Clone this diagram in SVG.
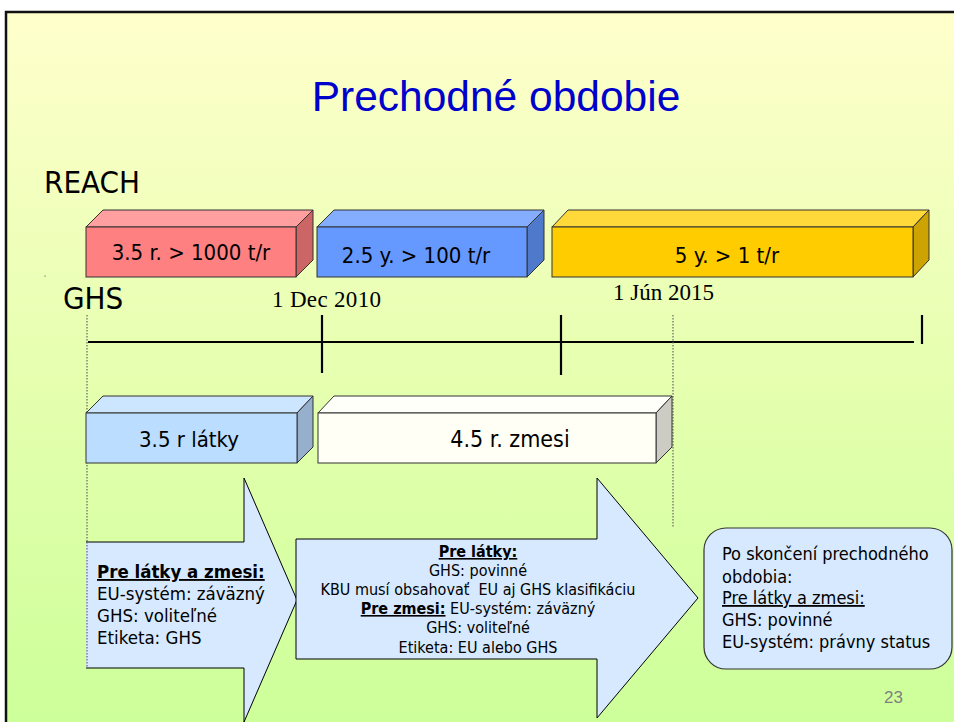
<svg xmlns="http://www.w3.org/2000/svg" width="954" height="722" viewBox="0 0 954 722">
<defs>
<linearGradient id="bg" x1="0" y1="0" x2="0" y2="1">
<stop offset="0" stop-color="#FFFFCC"/>
<stop offset="0.5" stop-color="#E6FFB0"/>
<stop offset="1" stop-color="#CCFF99"/>
</linearGradient>
<style>
.c{font-family:"DejaVu Sans Condensed","DejaVu Sans",sans-serif;font-stretch:condensed;fill:#000}
.s{font-family:"Liberation Serif","Times New Roman",serif;fill:#000}
.edge{stroke:#333;stroke-width:1}
.dot{stroke:#666;stroke-width:1.2;stroke-dasharray:1.5 1.5;fill:none}
.tl{stroke:#000;stroke-width:2.2;fill:none}
.arw{fill:#D6E9FF;stroke:#000;stroke-width:1}
</style>
</defs>
<rect x="0" y="0" width="954" height="722" fill="#FFFFFF"/>
<rect x="6" y="12" width="960" height="720" fill="url(#bg)"/>
<path d="M6,722 V12 H954" fill="none" stroke="#111" stroke-width="2.5"/>
<rect x="44.5" y="275.5" width="1.2" height="1.2" fill="#777"/>

<g id="title"><text x="496" y="111" text-anchor="middle" font-family="Liberation Sans, Arial, sans-serif" font-size="42.5" fill="#0000CC">Prechodné obdobie</text></g>
<g id="label-reach"><text class="c" x="44" y="193" font-size="31">REACH</text></g>
<g id="label-ghs"><text class="c" x="63" y="309" font-size="31">GHS</text></g>

<g id="reach-1">
<polygon class="edge" points="86,227 103,210 313,210 296,227" fill="#FF9F9F"/>
<polygon class="edge" points="296,227 313,210 313,260 296,277" fill="#CC6666"/>
<rect class="edge" x="86" y="227" width="210" height="50" fill="#FF8080"/>
<text class="c" x="191" y="260" font-size="22" text-anchor="middle">3.5 r. &gt; 1000 t/r</text>
</g>
<g id="reach-2">
<polygon class="edge" points="317,227 334,210 544,210 527,227" fill="#85ADFF"/>
<polygon class="edge" points="527,227 544,210 544,260 527,277" fill="#4F7ACC"/>
<rect class="edge" x="317" y="227" width="210" height="50" fill="#6699FF"/>
<text class="c" x="416" y="263" font-size="22" text-anchor="middle">2.5 y. &gt; 100 t/r</text>
</g>
<g id="reach-3">
<polygon class="edge" points="552,227 568,210 929,210 913,227" fill="#FFD83A"/>
<polygon class="edge" points="913,227 929,210 929,260 913,277" fill="#CCA300"/>
<rect class="edge" x="552" y="227" width="361" height="50" fill="#FFCC00"/>
<text class="c" x="727" y="263" font-size="22" text-anchor="middle">5 y. &gt; 1 t/r</text>
</g>

<g id="date-2010"><text class="s" x="272" y="307" font-size="23" textLength="109">1 Dec 2010</text></g>
<g id="date-2015"><text class="s" x="613" y="300" font-size="23" textLength="101">1 Jún 2015</text></g>

<g id="connectors">
<line class="tl" x1="88" y1="342" x2="914" y2="342"/>
<line class="tl" x1="322" y1="315" x2="322" y2="373" stroke-width="2.5"/>
<line class="tl" x1="561" y1="315" x2="561" y2="375" stroke-width="2.5"/>
<line class="tl" x1="922" y1="315" x2="922" y2="344" stroke-width="2.5"/>
<line class="dot" x1="87" y1="315" x2="87" y2="668"/>
<line class="dot" x1="673" y1="315" x2="673" y2="528"/>
</g>

<g id="ghs-latky">
<polygon class="edge" points="86,413 103,396 313,396 297,413" fill="#CCE6FF"/>
<polygon class="edge" points="297,413 313,396 313,447 297,463" fill="#96AFCC"/>
<rect class="edge" x="86" y="413" width="211" height="50" fill="#BBDDFF"/>
<text class="c" x="189" y="447" font-size="22" text-anchor="middle">3.5 r látky</text>
</g>
<g id="ghs-zmesi">
<polygon class="edge" points="318,413 334,396 672,396 656,413" fill="#FFFFFA"/>
<polygon class="edge" points="656,413 672,396 672,447 656,463" fill="#CCCCC4"/>
<rect class="edge" x="318" y="413" width="338" height="50" fill="#FFFFF5"/>
<text class="c" x="510" y="447" font-size="23" text-anchor="middle">4.5 r. zmesi</text>
</g>

<g id="arrow-1">
<path d="M86,542 H244 V478 L297,600 L244,722 V668 H86 Z" fill="#D6E9FF"/>
<path d="M86,542 H244 V478 L297,600 L244,722 V668 H86" fill="none" stroke="#000" stroke-width="1"/>
<line class="dot" x1="87" y1="542" x2="87" y2="668"/>
<text class="c" font-size="18.5">
<tspan x="97" y="578" font-weight="bold" text-decoration="underline">Pre látky a zmesi:</tspan>
<tspan x="97" y="600">EU-systém: záväzný</tspan>
<tspan x="97" y="622">GHS: voliteľné</tspan>
<tspan x="97" y="644">Etiketa: GHS</tspan>
</text>
</g>

<g id="arrow-2">
<path class="arw" d="M296,539 H597 V478 L698,598 L597,718 V659 H296 Z"/>
<text class="c" font-size="16" text-anchor="middle" xml:space="preserve"><tspan x="478" y="557" font-weight="bold" text-decoration="underline">Pre látky:</tspan><tspan x="478" y="576">GHS: povinné</tspan><tspan x="478" y="595">KBU musí obsahovať  EU aj GHS klasifikáciu</tspan><tspan x="478" y="614"><tspan font-weight="bold" text-decoration="underline">Pre zmesi:</tspan> EU-systém: záväzný</tspan><tspan x="478" y="633">GHS: voliteľné</tspan><tspan x="478" y="653">Etiketa: EU alebo GHS</tspan></text>
</g>

<g id="after-box">
<rect x="704" y="528" width="248" height="141" rx="22" ry="22" fill="#D6E9FF" stroke="#333" stroke-width="1.2"/>
<text class="c" font-size="18">
<tspan x="722" y="560">Po skončení prechodného</tspan>
<tspan x="722" y="583">obdobia:</tspan>
<tspan x="722" y="604" text-decoration="underline">Pre látky a zmesi:</tspan>
<tspan x="722" y="626">GHS: povinné</tspan>
<tspan x="722" y="648">EU-systém: právny status</tspan>
</text>
</g>

<g id="page-number"><text x="884" y="703" font-family="Liberation Sans, Arial, sans-serif" font-size="17" fill="#808080">23</text></g>
</svg>
